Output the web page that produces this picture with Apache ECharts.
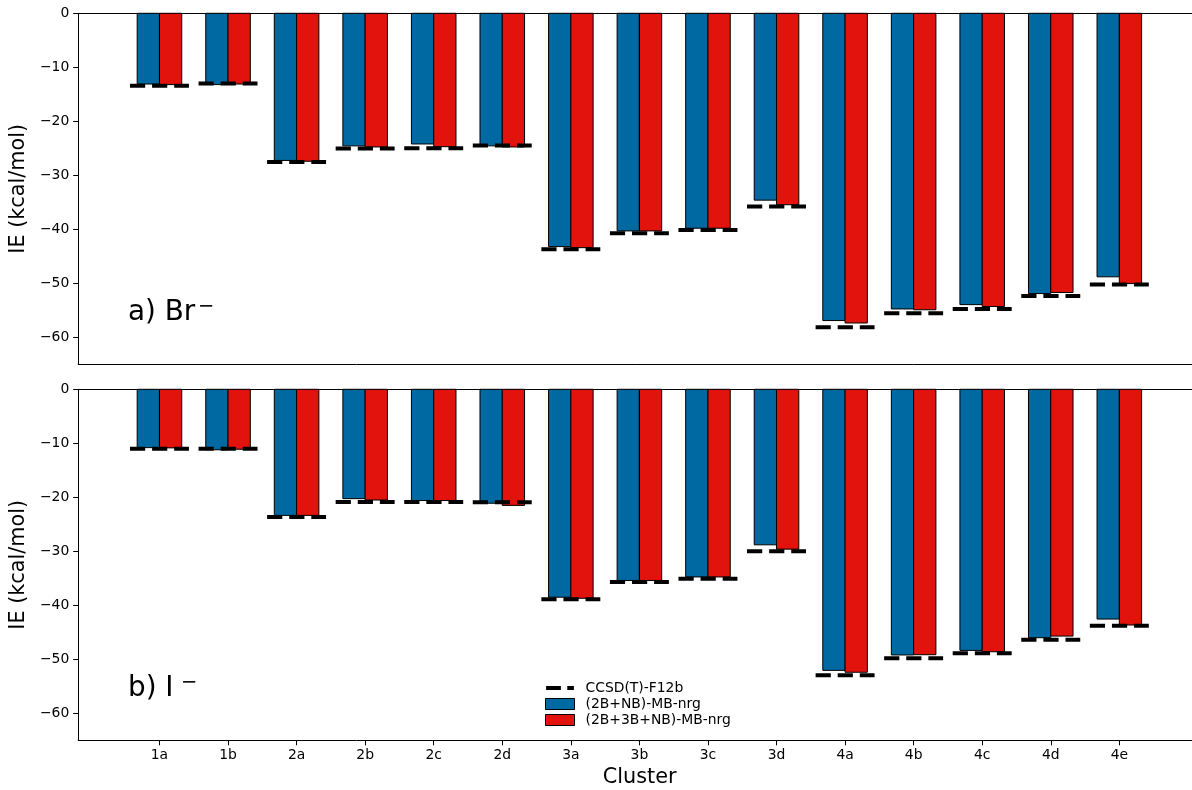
<!DOCTYPE html>
<html>
<head>
<meta charset="utf-8">
<title>Interaction energies of halide–water clusters</title>
<script src="https://cdn.jsdelivr.net/npm/echarts@6/dist/echarts.min.js"></script>
<style>
  html, body { margin: 0; padding: 0; background: #fff; }
  #chart { width: 1192px; height: 790px; }
</style>
</head>
<body>
<div id="chart"></div>
<script>
// Cluster labels along the x axis
const CLUSTERS = ['1a','1b','2a','2b','2c','2d','3a','3b','3c','3d','4a','4b','4c','4d','4e'];

// Series names
const REF_NAME = 'CCSD(T)-F12b';
const NB_NAME = '(2B+NB)-MB-nrg';
const NB3_NAME = '(2B+3B+NB)-MB-nrg';

// a) Br- interaction energies (kcal/mol)
const BR_NB  = [-13.1, -13.2, -27.25, -24.55, -24.2, -24.55, -43.2, -40.3, -39.8, -34.6, -56.9, -54.75, -53.95, -51.9, -48.8];
const BR_NB3 = [-13.2, -13.1, -27.4, -24.75, -24.7, -24.75, -43.4, -40.3, -39.8, -35.45, -57.35, -54.9, -54.3, -51.7, -50.05];
const BR_REF = [-13.4, -13.0, -27.55, -25.05, -25.0, -24.5, -43.7, -40.75, -40.15, -35.8, -58.15, -55.55, -54.75, -52.35, -50.2];

// b) I- interaction energies (kcal/mol)
const I_NB  = [-10.8, -11.2, -23.35, -20.25, -20.6, -21.1, -38.5, -35.4, -34.75, -28.8, -52.05, -49.2, -48.35, -46.0, -42.55];
const I_NB3 = [-10.85, -11.1, -23.35, -20.5, -20.6, -21.5, -38.7, -35.4, -34.75, -29.6, -52.4, -49.15, -48.6, -45.7, -43.65];
const I_REF = [-11.0, -11.0, -23.65, -20.85, -20.85, -20.9, -38.9, -35.7, -35.1, -30.0, -52.95, -49.8, -48.9, -46.4, -43.8];

// y-axis tick values
const Y_TICKS = [0, -10, -20, -30, -40, -50, -60];

const FONT = 'DejaVu Sans';
const BLUE = '#0069A1';
const RED = '#E2130D';
const BAR_W = 0.325;      // bar width in category units
const REF_HALF = 0.43;    // half length of reference dashes

const X_TICKS = CLUSTERS.map((_, i) => i);
const minus = v => (v < 0 ? '\u2212' + Math.abs(v) : String(v));

function barRenderer(color, side) {
  return function (params, api) {
    const i = api.value(0);
    const v = api.value(1);
    const x0 = side < 0 ? i - BAR_W : i;
    const x1 = side < 0 ? i : i + BAR_W;
    const p0 = api.coord([x0, 0]);
    const p1 = api.coord([x1, v]);
    return {
      type: 'rect',
      shape: { x: p0[0], y: p0[1], width: p1[0] - p0[0], height: p1[1] - p0[1] },
      style: { fill: color, stroke: '#000', lineWidth: 1 }
    };
  };
}

function refRenderer(params, api) {
  const i = api.value(0);
  const v = api.value(1);
  const a = api.coord([i - REF_HALF, v]);
  const b = api.coord([i + REF_HALF, v]);
  return {
    type: 'line',
    shape: { x1: a[0], y1: a[1], x2: b[0], y2: b[1] },
    style: { stroke: '#000', lineWidth: 4, lineDash: [15.2, 6.9], lineCap: 'butt' }
  };
}

const pairs = arr => arr.map((v, i) => [i, v]);

function panelSeries(idx, nb, nb3, ref) {
  return [
    { name: NB_NAME, type: 'custom', xAxisIndex: idx * 2, yAxisIndex: idx,
      renderItem: barRenderer(BLUE, -1), data: pairs(nb), itemStyle: { color: BLUE }, z: 2 },
    { name: NB3_NAME, type: 'custom', xAxisIndex: idx * 2, yAxisIndex: idx,
      renderItem: barRenderer(RED, 1), data: pairs(nb3), itemStyle: { color: RED }, z: 2 },
    { name: REF_NAME, type: 'custom', xAxisIndex: idx * 2, yAxisIndex: idx,
      renderItem: refRenderer, data: pairs(ref), itemStyle: { color: '#000' }, z: 3 }
  ];
}

const X_MIN = -1.185, X_MAX = 15.06;

function xAxes(gridIndex, showLabels) {
  return [
    {
      type: 'value', gridIndex, position: 'bottom', min: X_MIN, max: X_MAX,
      axisLine: { show: true, onZero: false, lineStyle: { color: '#000', width: 1 } },
      axisTick: { show: showLabels, customValues: X_TICKS, length: 5, lineStyle: { color: '#000', width: 1 } },
      axisLabel: { show: showLabels, customValues: X_TICKS, formatter: v => CLUSTERS[v] || '',
                   margin: 8, color: '#000', fontFamily: FONT, fontSize: 13.9 },
      splitLine: { show: false },
      name: showLabels ? 'Cluster' : '',
      nameLocation: 'middle', nameGap: 27,
      nameTextStyle: { fontFamily: FONT, fontSize: 20.8, color: '#000', padding: [0, 0, 0, 9] }
    },
    {
      type: 'value', gridIndex, position: 'top', min: X_MIN, max: X_MAX,
      axisLine: { show: true, onZero: false, lineStyle: { color: '#000', width: 1 } },
      axisTick: { show: false }, axisLabel: { show: false }, splitLine: { show: false }
    }
  ];
}

function yAxis(gridIndex) {
  return {
    type: 'value', gridIndex, min: -65, max: 0,
    axisLine: { show: true, onZero: false, lineStyle: { color: '#000', width: 1 } },
    axisTick: { show: true, customValues: Y_TICKS, length: 5, lineStyle: { color: '#000', width: 1 } },
    axisLabel: { customValues: Y_TICKS, formatter: minus, margin: 9,
                 color: '#000', fontFamily: FONT, fontSize: 13.9 },
    splitLine: { show: false },
    name: 'IE (kcal/mol)', nameLocation: 'middle', nameGap: 39,
    nameTextStyle: { fontFamily: FONT, fontSize: 20.8, color: '#000' }
  };
}

function panelLabel(text, x, baseY, supX) {
  return {
    type: 'group',
    children: [
      { type: 'text', x: x, y: baseY,
        style: { text: text, font: '27.8px "DejaVu Sans"', fill: '#000', verticalAlign: 'middle' } },
      { type: 'text', x: supX, y: baseY - 6,
        style: { text: '\u2212', font: '19.5px "DejaVu Sans"', fill: '#000', verticalAlign: 'middle' } }
    ]
  };
}

const chart = echarts.init(document.getElementById('chart'), null, { renderer: 'canvas' });

chart.setOption({
  animation: false,
  backgroundColor: '#fff',
  textStyle: { fontFamily: FONT },
  grid: [
    { left: 77, top: 13.3, right: 0, height: 351 },
    { left: 77, top: 389.3, right: 0, height: 351 }
  ],
  xAxis: [...xAxes(0, false), ...xAxes(1, true)],
  yAxis: [yAxis(0), yAxis(1)],
  legend: {
    orient: 'vertical', left: 545, top: 680, padding: 0,
    itemWidth: 29, itemHeight: 11, itemGap: 0,
    textStyle: { fontFamily: FONT, fontSize: 13.9, color: '#000', lineHeight: 16, padding: [0, 0, 0, 6] },
    data: [
      { name: REF_NAME,
        icon: 'path://M0,3.5h14.8v4h-14.8z M21.2,3.5h6.6v4h-6.6z M0,0h0.001v0.001h-0.001z M27.8,11h0.001v0.001h-0.001z',
        itemStyle: { color: '#000', borderWidth: 0 } },
      { name: NB_NAME, icon: 'rect', itemStyle: { color: BLUE, borderColor: '#000', borderWidth: 1 } },
      { name: NB3_NAME, icon: 'rect', itemStyle: { color: RED, borderColor: '#000', borderWidth: 1 } }
    ]
  },
  graphic: [
    panelLabel('a) Br', 128, 312.5, 198),
    panelLabel('b) I', 128, 688.5, 181)
  ],
  series: [
    ...panelSeries(0, BR_NB, BR_NB3, BR_REF),
    ...panelSeries(1, I_NB, I_NB3, I_REF)
  ]
});
</script>
</body>
</html>
